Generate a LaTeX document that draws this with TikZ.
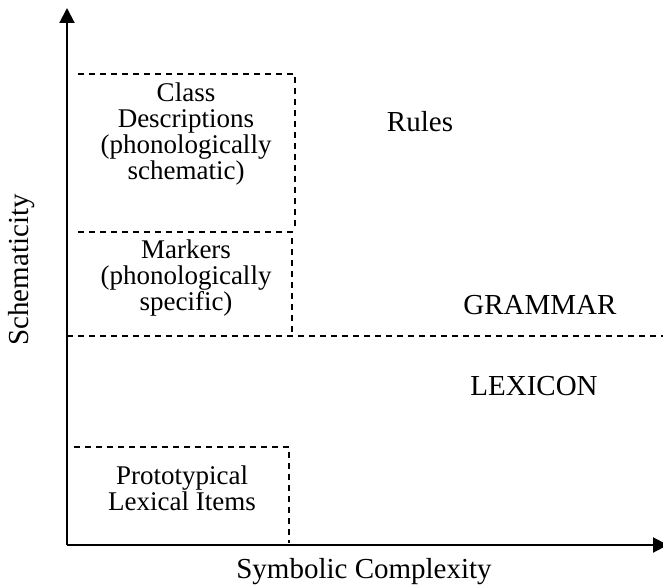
\documentclass[tikz,border=0pt]{standalone}
\usepackage{fontspec}
\setmainfont{Liberation Serif}
\usetikzlibrary{arrows.meta}
\begin{document}
\begin{tikzpicture}[x=1pt,y=-1pt,
  axisline/.style={line width=2pt,-{Triangle[length=15pt,width=15pt]}},
  dashline/.style={line width=1.2pt,dash pattern=on 6pt off 5pt},
  boxlbl/.style={font=\fontsize{27}{26}\selectfont,align=center,inner sep=0pt},
  lbl/.style={font=\fontsize{29}{29}\selectfont,align=center,inner sep=0pt}]
\useasboundingbox (0,0) rectangle (663,588);
\coordinate (o) at (67,545);
\coordinate (ytip) at (67,8);
\coordinate (xtip) at (668,545);
\draw[axisline] (o) -- (ytip);
\draw[axisline] (o) -- (xtip);
% top boxes
\coordinate (t1) at (78,74);
\coordinate (t2) at (295,74);
\coordinate (t3) at (295,226);
\coordinate (m1) at (78,232);
\coordinate (m2) at (295,232);
\coordinate (m3) at (292,238);
\coordinate (m4) at (292,334);
\draw[dashline] (t1) -- (t2) -- (t3);
\draw[dashline] (m1) -- (m2);
\draw[dashline] (m3) -- (m4);
% grammar / lexicon divider
\coordinate (g1) at (67,336);
\coordinate (g2) at (663,336);
\draw[dashline] (g1) -- (g2);
% bottom box
\coordinate (b1) at (74,447);
\coordinate (b2) at (289,447);
\coordinate (b3) at (289,543);
\draw[dashline] (b1) -- (b2) -- (b3);
% labels
\node[boxlbl] (cd) at (186,134) {Class\\Descriptions\\(phonologically\\schematic)};
\node[boxlbl] (mk) at (186,278) {Markers\\(phonologically\\specific)};
\node[boxlbl] (pl) at (182,488) {Prototypical\\Lexical Items};
\node[lbl] (ru) at (420,122) {Rules};
\node[lbl] (gr) at (540,305) {GRAMMAR};
\node[lbl] (lx) at (534,386) {LEXICON};
\node[lbl] (sc) at (364,572) {Symbolic Complexity};
\node[lbl,rotate=90] (sm) at (22,270) {Schematicity};
\end{tikzpicture}
\end{document}
